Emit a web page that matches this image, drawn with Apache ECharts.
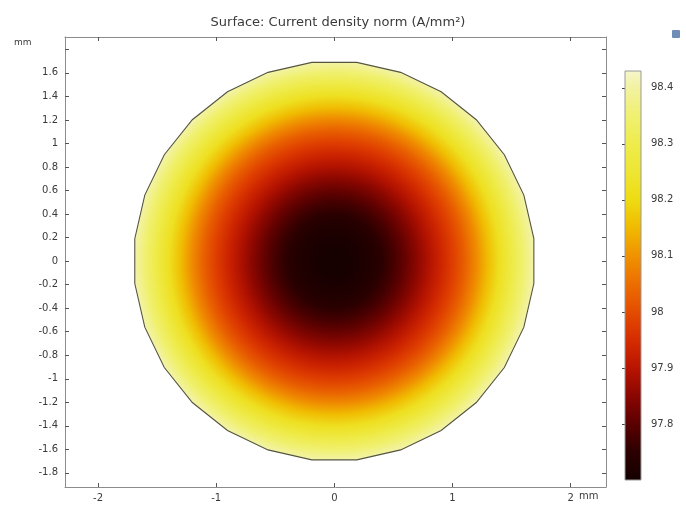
<!DOCTYPE html>
<html>
<head>
<meta charset="utf-8">
<script src="https://cdn.jsdelivr.net/npm/echarts@6/dist/echarts.min.js"></script>
<style>
  html, body { margin: 0; padding: 0; background: #ffffff; }
  #chart { width: 686px; height: 506px; }
</style>
</head>
<body>
<div id="chart"></div>
<script>
// Radial profile of the current density across the wire cross-section
const radiusMm = [0, 0.1, 0.2, 0.3, 0.4, 0.5, 0.6, 0.7, 0.8, 0.9, 1.0, 1.1, 1.2, 1.3, 1.4, 1.5, 1.6, 1.7];
const densityAmm2 = [97.705, 97.707, 97.714, 97.727, 97.748, 97.777, 97.813, 97.852, 97.892, 97.933,
                     97.977, 98.027, 98.087, 98.155, 98.222, 98.285, 98.348, 98.41];

// Axis ticks
const xTicks = [-2, -1, 0, 1, 2];
const yTicks = [-1.8, -1.6, -1.4, -1.2, -1, -0.8, -0.6, -0.4, -0.2, 0, 0.2, 0.4, 0.6, 0.8, 1, 1.2, 1.4, 1.6, 1.8];
const yLabelTicks = [-1.8, -1.6, -1.4, -1.2, -1, -0.8, -0.6, -0.4, -0.2, 0, 0.2, 0.4, 0.6, 0.8, 1, 1.2, 1.4, 1.6];
const barTicks = [97.8, 97.9, 98.0, 98.1, 98.2, 98.3, 98.4];

// Color range of the legend bar
const barMin = 97.70;
const barMax = 98.43;

// Thermal colour table (value -> colour)
const cmapValues = [97.70, 97.75, 97.80, 97.85, 97.90, 97.95, 98.00, 98.05, 98.10, 98.15, 98.20, 98.25, 98.30, 98.35, 98.40, 98.43];
const cmapColors = ['#140000', '#2c0000', '#5a0000', '#8a0600', '#b81400', '#d62c00', '#e44c00', '#ec6e00',
                    '#f09200', '#f0ba00', '#eedc12', '#eee634', '#eeec4c', '#f0f072', '#f2f2a2', '#f6f6cc'];

function hexToRgb(h) {
  return [parseInt(h.slice(1, 3), 16), parseInt(h.slice(3, 5), 16), parseInt(h.slice(5, 7), 16)];
}
function colorFor(v) {
  if (v <= cmapValues[0]) return cmapColors[0];
  const n = cmapValues.length;
  if (v >= cmapValues[n - 1]) return cmapColors[n - 1];
  for (let i = 0; i < n - 1; i++) {
    if (v >= cmapValues[i] && v <= cmapValues[i + 1]) {
      const t = (v - cmapValues[i]) / (cmapValues[i + 1] - cmapValues[i]);
      const a = hexToRgb(cmapColors[i]), b = hexToRgb(cmapColors[i + 1]);
      const c = a.map((x, k) => Math.round(x + (b[k] - x) * t));
      return 'rgb(' + c.join(',') + ')';
    }
  }
  return cmapColors[n - 1];
}

const FONT = "'DejaVu Sans', Verdana, sans-serif";
const TXT = '#3a3a3a';
const FRAME = '#8c8c8c';
const SIDES = 28;

const chart = echarts.init(document.getElementById('chart'), null, { renderer: 'canvas' });

const fmt = v => String(+(+v).toFixed(1));

chart.setOption({
  animation: false,
  backgroundColor: '#ffffff',
  title: {
    text: 'Surface: Current density norm (A/mm²)',
    left: 333, top: 11, textAlign: 'center',
    textStyle: { fontFamily: FONT, fontSize: 13, fontWeight: 'normal', color: TXT }
  },
  graphic: [
    { type: 'text', left: 14, top: 38, style: { text: 'mm', font: '9px ' + FONT, fill: TXT } },
    { type: 'text', left: 579, top: 491, style: { text: 'mm', font: '10px ' + FONT, fill: TXT } },
    { type: 'rect', left: 672, top: 30, shape: { width: 8, height: 8, r: 1 }, style: { fill: '#6f8db5' } }
  ],
  grid: [
    { left: 65, right: 80, top: 37, bottom: 19 },
    { left: 625, width: 16, top: 71, bottom: 26 }
  ],
  xAxis: [
    {
      type: 'value', gridIndex: 0, min: -2.28, max: 2.30, position: 'bottom',
      axisLine: { show: true, onZero: false, lineStyle: { color: FRAME, width: 1 } },
      axisTick: { show: true, inside: true, length: 4, customValues: xTicks, lineStyle: { color: '#555' } },
      axisLabel: { show: true, customValues: xTicks, formatter: fmt, fontFamily: FONT, fontSize: 10, color: TXT, margin: 6 },
      splitLine: { show: false }
    },
    {
      type: 'value', gridIndex: 0, min: -2.28, max: 2.30, position: 'top',
      axisLine: { show: true, onZero: false, lineStyle: { color: FRAME, width: 1 } },
      axisTick: { show: true, inside: true, length: 4, customValues: xTicks, lineStyle: { color: '#555' } },
      axisLabel: { show: false }, splitLine: { show: false }
    },
    {
      type: 'value', gridIndex: 1, min: 0, max: 1, show: false
    }
  ],
  yAxis: [
    {
      type: 'value', gridIndex: 0, min: -1.92, max: 1.905, position: 'left',
      axisLine: { show: true, onZero: false, lineStyle: { color: FRAME, width: 1 } },
      axisTick: { show: true, inside: true, length: 4, customValues: yTicks, lineStyle: { color: '#555' } },
      axisLabel: { show: true, customValues: yLabelTicks, formatter: fmt, fontFamily: FONT, fontSize: 10, color: TXT, margin: 7 },
      splitLine: { show: false }
    },
    {
      type: 'value', gridIndex: 0, min: -1.92, max: 1.905, position: 'right',
      axisLine: { show: true, onZero: false, lineStyle: { color: FRAME, width: 1 } },
      axisTick: { show: true, inside: true, length: 4, customValues: yTicks, lineStyle: { color: '#555' } },
      axisLabel: { show: false }, splitLine: { show: false }
    },
    {
      type: 'value', gridIndex: 1, min: barMin, max: barMax, position: 'right',
      axisLine: { show: false },
      axisTick: { show: true, inside: true, length: 3, customValues: barTicks, lineStyle: { color: '#444' } },
      axisLabel: { show: true, customValues: barTicks, formatter: fmt, fontFamily: FONT, fontSize: 10, color: TXT, margin: 10 },
      splitLine: { show: false }
    },
    {
      type: 'value', gridIndex: 1, min: barMin, max: barMax, position: 'left',
      axisLine: { show: false },
      axisTick: { show: true, inside: true, length: 3, customValues: barTicks, lineStyle: { color: '#444' } },
      axisLabel: { show: false }, splitLine: { show: false }
    }
  ],
  series: [
    {
      // Conductor cross-section: meshed circular boundary filled by the radial density profile
      type: 'custom',
      xAxisIndex: 0, yAxisIndex: 0,
      data: [[0, 0]],
      renderItem: function (params, api) {
        const c = api.coord([api.value(0), api.value(1)]);
        const rOuter = radiusMm[radiusMm.length - 1];
        const rPx = api.coord([rOuter, 0])[0] - api.coord([0, 0])[0];
        const pts = [];
        for (let k = 0; k < SIDES; k++) {
          const a = (180 / SIDES + 360 / SIDES * k) * Math.PI / 180;
          pts.push(api.coord([rOuter * Math.cos(a), rOuter * Math.sin(a)]));
        }
        const stops = radiusMm.map((r, i) => ({ offset: r / rOuter, color: colorFor(densityAmm2[i]) }));
        return {
          type: 'polygon',
          shape: { points: pts },
          style: {
            fill: { type: 'radial', x: c[0], y: c[1], r: rPx, colorStops: stops, global: true },
            stroke: '#55553f', lineWidth: 1.1
          }
        };
      }
    },
    {
      // Colour legend bar
      type: 'custom',
      xAxisIndex: 2, yAxisIndex: 2,
      data: [[0, barMin, 1, barMax]],
      renderItem: function (params, api) {
        const p0 = api.coord([api.value(0), api.value(1)]);
        const p1 = api.coord([api.value(2), api.value(3)]);
        const stops = cmapValues.map((v, i) => ({ offset: (v - barMin) / (barMax - barMin), color: cmapColors[i] }));
        return {
          type: 'rect',
          shape: { x: p0[0], y: p1[1], width: p1[0] - p0[0], height: p0[1] - p1[1] },
          style: {
            fill: { type: 'linear', x: 0, y: 1, x2: 0, y2: 0, colorStops: stops },
            stroke: '#9a9a9a', lineWidth: 1
          }
        };
      }
    }
  ]
});
</script>
</body>
</html>
